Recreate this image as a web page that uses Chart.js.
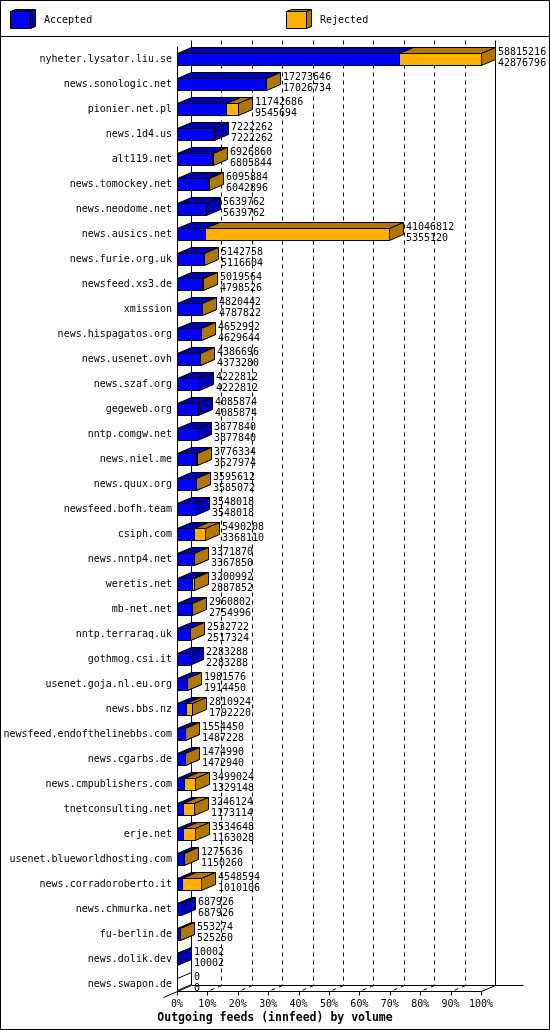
<!DOCTYPE html>
<html>
<head>
<meta charset="utf-8">
<title>Outgoing feeds (innfeed) by volume</title>
<script src="https://cdn.jsdelivr.net/npm/chart.js@4/dist/chart.umd.min.js"></script>
<style>
    body { margin: 0; background: #fff; }
    canvas { display: block; }
</style>
</head>
<body>
<canvas id="feedChart" width="550" height="1030"></canvas>
<script>
// Hosts, sorted by accepted articles
const hosts = [
    'nyheter.lysator.liu.se', 'news.sonologic.net', 'pionier.net.pl', 'news.1d4.us',
    'alt119.net', 'news.tomockey.net', 'news.neodome.net', 'news.ausics.net',
    'news.furie.org.uk', 'newsfeed.xs3.de', 'xmission', 'news.hispagatos.org',
    'news.usenet.ovh', 'news.szaf.org', 'gegeweb.org', 'nntp.comgw.net',
    'news.niel.me', 'news.quux.org', 'newsfeed.bofh.team', 'csiph.com',
    'news.nntp4.net', 'weretis.net', 'mb-net.net', 'nntp.terraraq.uk',
    'gothmog.csi.it', 'usenet.goja.nl.eu.org', 'news.bbs.nz', 'newsfeed.endofthelinebbs.com',
    'news.cgarbs.de', 'news.cmpublishers.com', 'tnetconsulting.net', 'erje.net',
    'usenet.blueworldhosting.com', 'news.corradoroberto.it', 'news.chmurka.net', 'fu-berlin.de',
    'news.dolik.dev', 'news.swapon.de'
];
// Articles offered (upper number)
const offered = [
    58815216, 17273646, 11742686, 7222262,
    6926860, 6095884, 5639762, 41046812,
    5142758, 5019564, 4820442, 4652992,
    4386696, 4222812, 4085874, 3877840,
    3776334, 3595612, 3548018, 5490208,
    3371870, 3200992, 2960802, 2532722,
    2283288, 1981576, 2810924, 1554450,
    1474990, 3499024, 3246124, 3534648,
    1275636, 4548594, 687926, 553274,
    10002, 0
];
// Articles accepted (lower number)
const accepted = [
    42876796, 17026734, 9545694, 7222262,
    6805844, 6042896, 5639762, 5355120,
    5116604, 4798526, 4787822, 4629644,
    4373280, 4222812, 4085874, 3877840,
    3627974, 3585072, 3548018, 3368110,
    3367850, 2887852, 2754996, 2517324,
    2283288, 1914450, 1792220, 1487228,
    1472940, 1329148, 1173114, 1163028,
    1150260, 1010106, 687926, 525250,
    10002, 0
];
const tickValues = [0, 10, 20, 30, 40, 50, 60, 70, 80, 90, 100];

const FONT = '"DejaVu Sans Mono", "Liberation Mono", monospace';
const DX = 14;      // 3d depth, horizontal
const DY = -6;      // 3d depth, vertical
const colors = [
    { face: '#0000ff', shade: '#0000b0' },   // accepted
    { face: '#ffb000', shade: '#b07800' }    // rejected
];

// bars are scaled against the biggest offered count
const maxOffered = Math.max(...offered);
const acceptedPct = accepted.map(v => v / maxOffered * 100);
const rejectedPct = offered.map((v, i) => (v - accepted[i]) / maxOffered * 100);

function poly(ctx, pts, fill) {
    ctx.beginPath();
    ctx.moveTo(pts[0][0], pts[0][1]);
    for (let i = 1; i < pts.length; i++) ctx.lineTo(pts[i][0], pts[i][1]);
    ctx.closePath();
    if (fill) {
        ctx.fillStyle = fill;
        ctx.fill();
    }
    ctx.stroke();
}

function line(ctx, x1, y1, x2, y2) {
    ctx.beginPath();
    ctx.moveTo(x1, y1);
    ctx.lineTo(x2, y2);
    ctx.stroke();
}

const wallPlugin = {
    id: 'wall',

    // back wall, floor and dashed grid behind the bars
    beforeDatasetsDraw(chart) {
        const ctx = chart.ctx;
        const x = chart.scales.x;
        const y = chart.scales.y;
        const floor = Math.round(y.getPixelForValue(hosts.length - 1)) + 7;
        const back = floor + DY;
        const top = 40;
        const x0 = Math.round(x.getPixelForValue(0));
        const x100 = Math.round(x.getPixelForValue(100));

        ctx.save();
        ctx.strokeStyle = '#000';
        ctx.lineWidth = 1;
        ctx.translate(0.5, 0.5);

        // dashed grid on the wall and across the floor
        ctx.setLineDash([4, 4]);
        tickValues.slice(1, -1).forEach(v => {
            const xf = Math.round(x.getPixelForValue(v));
            line(ctx, xf + DX, top, xf + DX, back);
            line(ctx, xf + DX, back, xf, floor);
        });
        ctx.setLineDash([]);

        // walls
        line(ctx, x0 + DX, top, x0 + DX, back);
        line(ctx, x100 + DX, top, x100 + DX, back);
        line(ctx, x0, top - DY, x0, floor);
        // floor edges
        line(ctx, x0 + DX, back, x100 + DX + 28, back);
        line(ctx, x0, floor, x100, floor);
        line(ctx, x100, floor, x100 + DX, back);
        line(ctx, x0 - DX, floor - DY, x0 + DX, back);
        // front ticks
        tickValues.forEach(v => {
            const xf = Math.round(x.getPixelForValue(v));
            line(ctx, xf, floor, xf, floor + 4);
        });
        ctx.restore();
    },

    // each row again in order: front, top and side of accepted, then rejected
    afterDatasetsDraw(chart) {
        const ctx = chart.ctx;
        ctx.save();
        ctx.strokeStyle = '#000';
        ctx.lineWidth = 1;
        hosts.forEach((h, i) => {
            [0, 1].forEach(d => {
                const el = chart.getDatasetMeta(d).data[i];
                const { x, y, base } = el.getProps(['x', 'y', 'base'], true);
                const t = Math.round(y) - 6 + 0.5;
                const b = t + 12;
                const l = Math.round(base) + 0.5;
                const r = Math.round(x) + 0.5;
                const shade = colors[d].shade;
                if (chart.data.datasets[d].data[i] > 0) {
                    poly(ctx, [[l, t], [r, t], [r, b], [l, b]], colors[d].face);
                    poly(ctx, [[l, t], [l + DX, t + DY], [r + DX, t + DY], [r, t]], shade);
                    poly(ctx, [[r, t], [r + DX, t + DY], [r + DX, b + DY], [r, b]], shade);
                } else if (d === 1 && offered[i] === 0) {
                    // empty bar: just the outline
                    poly(ctx, [[l, t], [l + DX, t + DY], [l + DX, b + DY], [l, b]], null);
                }
            });
        });
        ctx.restore();
    },

    // numbers, legend and frame
    afterDraw(chart) {
        const ctx = chart.ctx;
        const y = chart.scales.y;
        const metaRej = chart.getDatasetMeta(1);
        ctx.save();
        ctx.fillStyle = '#000';
        ctx.font = '10px ' + FONT;
        ctx.textAlign = 'left';
        ctx.textBaseline = 'middle';
        hosts.forEach((h, i) => {
            const end = Math.round(metaRej.data[i].x) + DX + 3;
            const yc = Math.round(y.getPixelForValue(i));
            ctx.fillText(String(offered[i]), end, yc - 7);
            ctx.fillText(String(accepted[i]), end, yc + 4);
        });

        // legend with little 3d boxes
        ctx.strokeStyle = '#000';
        ctx.lineWidth = 1;
        const items = [
            { x: 10, label: chart.data.datasets[0].label, c: colors[0] },
            { x: 286, label: chart.data.datasets[1].label, c: colors[1] }
        ];
        items.forEach(it => {
            const l = it.x + 0.5, r = l + 20, t = 11.5, b = 28.5;
            poly(ctx, [[l, t], [r, t], [r, b], [l, b]], it.c.face);
            poly(ctx, [[l, t], [l + 5, t - 2], [r + 5, t - 2], [r, t]], it.c.shade);
            poly(ctx, [[r, t], [r + 5, t - 2], [r + 5, b - 2], [r, b]], it.c.shade);
            ctx.fillStyle = '#000';
            ctx.fillText(it.label, it.x + 34, 20);
        });

        line(ctx, 0, 36.5, 550, 36.5);
        ctx.strokeRect(0.5, 0.5, 549, 1029);
        ctx.restore();
    }
};

const ctx = document.getElementById('feedChart').getContext('2d');
new Chart(ctx, {
    type: 'bar',
    data: {
        labels: hosts,
        datasets: [{
            label: 'Accepted',
            data: acceptedPct,
            backgroundColor: colors[0].face,
            borderWidth: 0,
            barThickness: 12
        }, {
            label: 'Rejected',
            data: rejectedPct,
            backgroundColor: colors[1].face,
            borderWidth: 0,
            barThickness: 12
        }]
    },
    options: {
        indexAxis: 'y',
        responsive: false,
        animation: false,
        devicePixelRatio: 1,
        layout: { padding: { top: 46.5, right: 0, left: 0, bottom: 0 } },
        scales: {
            x: {
                stacked: true,
                min: 0,
                max: 100,
                grid: { display: false, drawTicks: false },
                border: { display: false },
                afterFit: s => { s.height = 13.7; },
                afterBuildTicks: s => { s.ticks = tickValues.map(v => ({ value: v })); },
                ticks: {
                    autoSkip: false,
                    maxRotation: 0,
                    padding: 2,
                    color: '#000',
                    font: { family: FONT, size: 10 },
                    callback: v => v + '%'
                }
            },
            y: {
                stacked: true,
                grid: { display: false, drawTicks: false },
                border: { display: false },
                afterFit: s => { s.width = 177; },
                ticks: {
                    autoSkip: false,
                    padding: 5,
                    color: '#000',
                    font: { family: FONT, size: 10 }
                }
            },
            // empty strip on the right that holds the value labels
            yRight: {
                type: 'category',
                position: 'right',
                grid: { display: false, drawTicks: false },
                border: { display: false },
                ticks: { display: false },
                afterFit: s => { s.width = 69; }
            }
        },
        plugins: {
            legend: { display: false },
            tooltip: { enabled: false },
            title: {
                display: true,
                position: 'bottom',
                text: 'Outgoing feeds (innfeed) by volume',
                color: '#000',
                font: { family: FONT, size: 11.5, weight: 'bold' },
                padding: { top: 1, bottom: 5 }
            }
        }
    },
    plugins: [wallPlugin]
});
</script>
</body>
</html>
